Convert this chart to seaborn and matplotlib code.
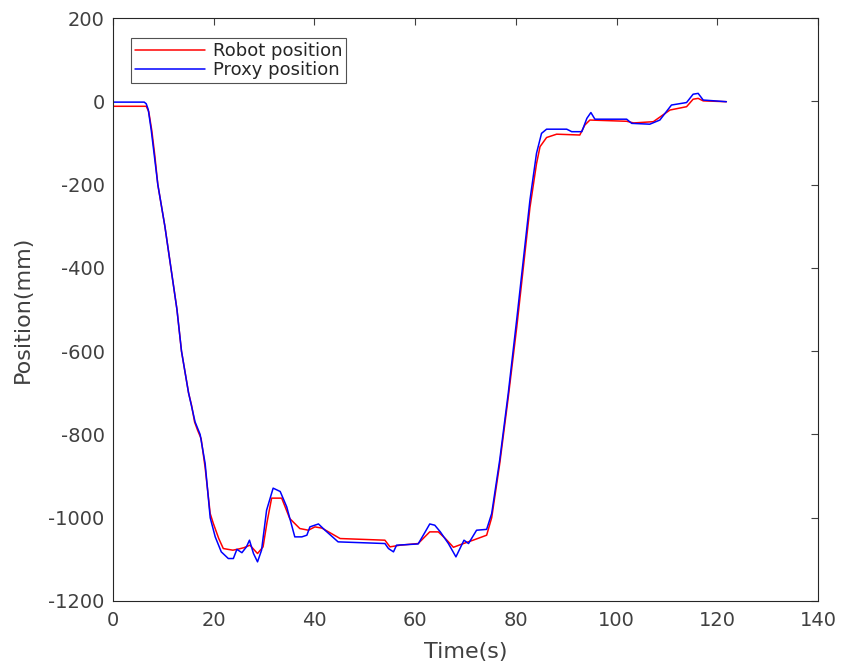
import numpy as np
import pandas as pd
import seaborn as sns
import matplotlib.pyplot as plt

# Robot position (red)
robot_t = [0, 6.6, 7.1, 7.7, 8.3, 8.9, 10.3, 11.5, 12.7, 13.6, 15.0, 15.6, 16.2, 16.8, 17.5,
           18.3, 19.3, 19.9, 21.0, 21.9, 23.8, 25.0, 26.0, 27.2, 28.7, 29.8, 30.6, 31.5,
           33.5, 35.1, 37.1, 38.8, 40.1, 41.5, 45.1, 54.0, 55.0, 57.0, 60.6, 62.9, 64.6,
           66.0, 67.6, 69.6, 71.5, 74.2, 75.2, 76.8, 78.5, 80.2, 82.8, 84.1, 84.8, 86.1,
           88.1, 92.7, 93.7, 94.7, 102.0, 103.4, 107.3, 110.6, 113.9, 115.2, 116.2, 117.2, 121.8]
robot_pos = [-12, -12, -25, -70, -130, -200, -300, -400, -500, -600, -700, -730, -770, -790, -810,
             -880, -990, -1013, -1050, -1074, -1078, -1075, -1072, -1066, -1086, -1070, -1010, -953,
             -953, -1002, -1026, -1030, -1022, -1025, -1050, -1054, -1070, -1066, -1062, -1034, -1034,
             -1050, -1071, -1062, -1054, -1042, -1000, -870, -710, -540, -255, -150, -109, -87,
             -79, -81, -57, -45, -48, -52, -49, -21, -13, 5, 7, 1, -1]

# Proxy position (blue)
proxy_t = [0, 6.2, 6.6, 7.0, 7.6, 8.2, 8.9, 10.3, 11.5, 12.7, 13.6, 15.0, 16.3, 17.3, 18.3, 19.3,
           20.3, 21.5, 22.9, 23.9, 24.6, 25.6, 26.5, 27.1, 27.9, 28.7, 29.5, 30.5, 31.8, 33.2,
           34.5, 36.1, 37.5, 38.5, 39.1, 40.8, 42.1, 44.7, 54.0, 54.7, 55.7, 56.3, 60.6, 62.0,
           62.9, 63.9, 65.0, 66.6, 68.1, 69.7, 70.6, 72.2, 74.2, 75.2, 76.8, 78.5, 80.2, 82.8,
           84.1, 85.1, 86.1, 90.1, 91.1, 93.1, 94.1, 94.9, 95.7, 102.0, 103.0, 106.6, 108.6,
           110.9, 113.9, 115.2, 116.2, 117.2, 121.8]
proxy_pos = [-2, -2, -6, -20, -70, -130, -200, -300, -400, -500, -600, -700, -770, -800, -870, -1000,
             -1046, -1082, -1098, -1098, -1076, -1084, -1070, -1054, -1086, -1106, -1078, -982, -929, -937,
             -974, -1046, -1046, -1042, -1022, -1015, -1030, -1058, -1062, -1074, -1082, -1066, -1063, -1034,
             -1015, -1018, -1034, -1062, -1094, -1054, -1062, -1030, -1028, -990, -861, -700, -521, -237,
             -125, -77, -67, -67, -73, -73, -41, -27, -43, -43, -53, -55, -45,
             -9, -3, 17, 19, 3, -1]

series = ['Robot position', 'Proxy position']
colors = ['#ff0000', '#0000ff']

df = pd.concat([
    pd.DataFrame({'t': robot_t, 'pos': robot_pos, 'series': series[0]}),
    pd.DataFrame({'t': proxy_t, 'pos': proxy_pos, 'series': series[1]}),
], ignore_index=True)

sns.set_style('white')
plt.rcParams['font.family'] = ['DejaVu Sans']
plt.rcParams['axes.unicode_minus'] = False

fig = plt.figure(figsize=(8.42, 6.70), dpi=100)
ax = fig.add_axes([113 / 842, 1 - 601 / 670, 705 / 842, 583 / 670])

sns.lineplot(data=df, x='t', y='pos', hue='series', hue_order=series,
             palette=dict(zip(series, colors)), estimator=None, sort=False,
             linewidth=1.1, ax=ax)

ax.set_xlim(0, 140)
ax.set_ylim(-1200, 200)
ax.set_xticks(np.arange(0, 141, 20))
ax.set_yticks(np.arange(-1200, 201, 200))
ax.set_xlabel('Time(s)', fontsize=16, color='#404040', labelpad=9)
ax.set_ylabel('Position(mm)', fontsize=16, color='#404040', labelpad=11)
ax.tick_params(direction='in', length=5, width=0.8, top=True, right=True,
               labelsize=14, colors='#404040')
ax.tick_params(axis='x', pad=7)
ax.tick_params(axis='y', pad=6)
for s in ax.spines.values():
    s.set_color('#262626')
    s.set_linewidth(0.8)

leg = ax.legend(loc='upper left', bbox_to_anchor=(0.026, 0.965), fontsize=13,
                frameon=True, fancybox=False, borderpad=0.2, handlelength=3.9,
                handletextpad=0.4, labelspacing=0.05, borderaxespad=0)
leg.get_frame().set_edgecolor('#262626')
leg.get_frame().set_linewidth(0.8)
for txt in leg.get_texts():
    txt.set_color('#262626')

fig.savefig('out.png', dpi=100)
